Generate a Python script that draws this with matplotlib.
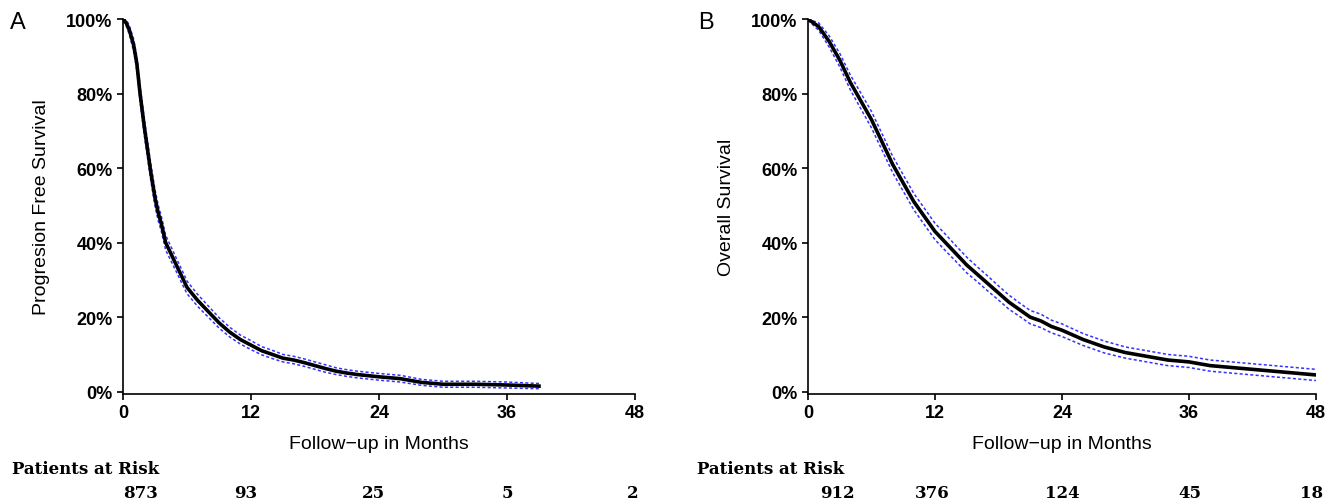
import matplotlib
matplotlib.use("Agg")
import matplotlib.pyplot as plt
import numpy as np
from matplotlib.ticker import PercentFormatter

pfs_t = [0,0.3,0.6,1,1.3,1.6,2,2.3,2.6,3,3.3,3.6,4,4.5,5,5.5,6,7,8,9,10,11,12,13,14,15,16,17,18,19,20,21,22,23,24,26,28,30,33,36,39]
pfs_s = [1,0.99,0.97,0.93,0.88,0.80,0.71,0.65,0.59,0.52,0.48,0.45,0.40,0.37,0.34,0.31,0.28,0.245,0.215,0.185,0.16,0.14,0.125,0.11,0.10,0.09,0.085,0.078,0.07,0.062,0.055,0.05,0.046,0.043,0.04,0.035,0.025,0.02,0.02,0.018,0.015]
pfs_ci = [0.005,0.008,0.012,0.016,0.018,0.02,0.022,0.022,0.022,0.022,0.021,0.02,0.02,0.019,0.018,0.018,0.017,0.016,0.015,0.014,0.013,0.012,0.012,0.011,0.011,0.01,0.01,0.01,0.01,0.01,0.009,0.009,0.009,0.009,0.009,0.009,0.008,0.008,0.008,0.008,0.007]
os_t = [0,1,2,3,4,5,6,7,8,9,10,11,12,13,14,15,16,17,18,19,20,21,22,23,24,26,28,30,32,34,36,38,40,42,44,46,48]
os_s = [1,0.98,0.94,0.89,0.83,0.78,0.73,0.67,0.61,0.56,0.51,0.47,0.43,0.40,0.37,0.34,0.315,0.29,0.265,0.24,0.22,0.20,0.19,0.175,0.165,0.14,0.12,0.105,0.095,0.085,0.08,0.07,0.065,0.06,0.055,0.05,0.045]
os_ci = [0.003,0.01,0.015,0.018,0.02,0.021,0.022,0.022,0.022,0.022,0.022,0.022,0.022,0.022,0.021,0.021,0.02,0.02,0.019,0.019,0.018,0.018,0.018,0.017,0.017,0.016,0.016,0.015,0.015,0.015,0.015,0.015,0.015,0.015,0.015,0.015,0.015]
pfs_risk = ["873","93","25","5","2"]
pfs_risk_x = [1.6,11.5,23.5,36,47.8]
os_risk = ["912","376","124","45","18"]
os_risk_x = [2.8,11.7,24,36.1,47.6]

fig = plt.figure(figsize=(13.29,5.02), dpi=100)
sans = "Liberation Sans"
serif = "DejaVu Serif"

def panel(rect, t, s, ci, ylabel, letter, lx, risk, rx, risk_lx):
    ax = fig.add_axes(rect)
    t = np.array(t); s = np.array(s); ci = np.array(ci)
    ax.plot(t, np.clip(s+ci,0,1), color="#3333ff", ls=(0,(2,1.5)), lw=1.1)
    ax.plot(t, np.clip(s-ci,0,1), color="#3333ff", ls=(0,(2,1.5)), lw=1.1)
    ax.plot(t, s, color="black", lw=2.6)
    ax.set_xlim(0,48); ax.set_ylim(-0.005,1.0)
    ax.set_xticks([0,12,24,36,48]); ax.set_yticks([0,0.2,0.4,0.6,0.8,1.0])
    ax.yaxis.set_major_formatter(PercentFormatter(1.0, decimals=0))
    for sp in ["top","right"]: ax.spines[sp].set_visible(False)
    for sp in ["left","bottom"]: ax.spines[sp].set_linewidth(1.2)
    ax.tick_params(direction="out", length=4, width=1.2, labelsize=13)
    for lab in ax.get_xticklabels()+ax.get_yticklabels():
        lab.set_fontweight("bold"); lab.set_family(sans)
    ax.set_xlabel("Follow\u2212up in Months", fontsize=14, family=sans, labelpad=10)
    ax.set_ylabel(ylabel, fontsize=14, family=sans, labelpad=12)
    fig.text(lx, 0.955, letter, fontsize=17, family=sans, va="center")
    fig.text(risk_lx, 1-470/502, "Patients at Risk", fontsize=12, family=serif, fontweight="bold", va="center")
    pos = ax.get_position()
    for r, x in zip(risk, rx):
        ax.text(x, (1-494/502 - pos.y0)/pos.height, r, transform=ax.get_xaxis_transform(), fontsize=12,
                family=serif, fontweight="bold", ha="center", va="center")

panel([123/1329, 0.214, 512/1329, 0.746], pfs_t, pfs_s, pfs_ci, "Progresion Free Survival", "A", 10/1329, pfs_risk, pfs_risk_x, 12/1329)
panel([808/1329, 0.214, 508/1329, 0.746], os_t, os_s, os_ci, "Overall Survival", "B", 698/1329, os_risk, os_risk_x, 697/1329)

fig.savefig("out.png", dpi=100)
